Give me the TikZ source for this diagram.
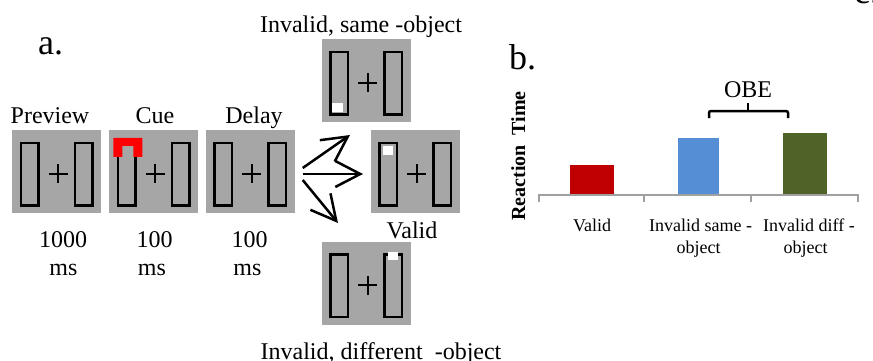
\documentclass[tikz,border=0pt]{standalone}
\usepackage{fontspec}
\setmainfont{Liberation Serif}
\usetikzlibrary{arrows.meta}

\definecolor{panelgray}{HTML}{A6A6A6}
\definecolor{axisgray}{HTML}{A0A0A0}
\definecolor{cuered}{HTML}{FF0000}
\definecolor{validred}{HTML}{C00000}
\definecolor{sameblue}{HTML}{558ED5}
\definecolor{diffgreen}{HTML}{4F6228}

% two placeholder bars and the fixation cross inside a display
\newcommand{\stimulus}[1]{%
	\draw[frame] ([shift={(9.3,13.3)}]#1.north west) rectangle ([shift={(26.7,75.7)}]#1.north west);
	\draw[frame] ([shift={(63.3,13.3)}]#1.north west) rectangle ([shift={(80.7,75.7)}]#1.north west);
	\draw[cross] ([shift={(37,44)}]#1.north west) -- ([shift={(56,44)}]#1.north west);
	\draw[cross] ([shift={(46.5,34.5)}]#1.north west) -- ([shift={(46.5,53.5)}]#1.north west);
}
% white target square
\newcommand{\probe}[3]{%
	\fill[white] ([shift={(#2)}]#1.north west) rectangle ([shift={(#3)}]#1.north west);
}

\begin{document}
\begin{tikzpicture}[x=1pt,y=-1pt]
	\tikzset{panel/.style={fill=panelgray, minimum width=89pt, minimum height=83pt, inner sep=0pt}}
	\tikzset{frame/.style={line width=2.7pt}}
	\tikzset{cross/.style={line width=2.2pt}}
	\tikzset{lbl/.style={font=\fontsize{24}{28}\selectfont, anchor=base, inner sep=0pt}}
	\tikzset{cat/.style={font=\fontsize{18}{21}\selectfont, anchor=base, inner sep=0pt}}
	\tikzset{letter/.style={font=\fontsize{36}{42}\selectfont, anchor=base west, inner sep=0pt}}
	\tikzset{bigarrow/.style={line width=2.5pt, -{Straight Barb[length=25pt, width=26pt]}}}
	\useasboundingbox (0,0) rectangle (873,361);

	% a. trial sequence
	\node[letter] (a) at (38,55) {a.};
	\node[panel] (preview) at (56.5,171.5) {};
	\node[panel] (cue) at (153.5,171.5) {};
	\node[panel] (delay) at (250,171.5) {};
	\stimulus{preview}
	\stimulus{cue}
	\stimulus{delay}
	\fill[cuered] ([shift={(4.5,27)}]cue.north west) -- ([shift={(4.5,8)}]cue.north west)
		-- ([shift={(33.5,8)}]cue.north west) -- ([shift={(33.5,27)}]cue.north west)
		-- ([shift={(24.5,27)}]cue.north west) -- ([shift={(24.5,16)}]cue.north west)
		-- ([shift={(13.5,16)}]cue.north west) -- ([shift={(13.5,27)}]cue.north west) -- cycle;
	\node[lbl] (previewname) at (50,123) {Preview};
	\node[lbl] (cuename) at (155,123) {Cue};
	\node[lbl] (delayname) at (254,123) {Delay};
	\node[lbl] (previewtime) at (63,247) {1000};
	\node[lbl] (previewms) at (63.5,275) {ms};
	\node[lbl] (cuetime) at (154.5,247) {100};
	\node[lbl] (cuems) at (152,275) {ms};
	\node[lbl] (delaytime) at (249.5,247) {100};
	\node[lbl] (delayms) at (247.5,275) {ms};

	% targets
	\node[panel] (same) at (366,80.5) {};
	\node[panel] (valid) at (415,171.5) {};
	\node[panel] (diff) at (366,283) {};
	\stimulus{same}
	\stimulus{valid}
	\stimulus{diff}
	\probe{same}{11,64}{22,73}
	\probe{valid}{13,16}{23,25}
	\probe{diff}{67,11}{77,19}
	\node[lbl] (samename) at (361,33) {Invalid, same -object};
	\node[lbl] (validname) at (412,238) {Valid};
	\node[lbl] (diffname) at (381,359) {Invalid, different\ \ -object};

	\coordinate (tosame) at (350,135);
	\coordinate (tovalid) at (363,174);
	\coordinate (todiff) at (338,223);
	\draw[bigarrow] ([shift={(8,-3.5)}]delay.east) -- (tosame);
	\draw[bigarrow] ([shift={(8,2.5)}]delay.east) -- (tovalid);
	\draw[bigarrow] ([shift={(8,8.5)}]delay.east) -- (todiff);

	% b. reaction times
	\node[letter] (b) at (509,70) {b.};
	\node[font=\fontsize{20}{24}\selectfont\bfseries, rotate=90, anchor=base, inner sep=0pt] (rt) at (525,156) {Reaction\ \ Time};
	\fill[validred] (570,165) rectangle (614,195);
	\fill[sameblue] (678,138) rectangle (719,195);
	\fill[diffgreen] (783,133) rectangle (827,195);
	\draw[axisgray, line width=2pt] (539,195) -- (858,195);
	\foreach \x in {539,644,751,858}
		\draw[axisgray, line width=2pt] (\x,194) -- (\x,202);
	\node[cat] (validcat) at (592,231) {Valid};
	\node[cat] (samecat) at (700.5,231) {Invalid same -};
	\node[cat] (samecat2) at (698.5,253) {object};
	\node[cat] (diffcat) at (809,231) {Invalid diff -};
	\node[cat] (diffcat2) at (805.5,253) {object};
	\draw[line width=2.5pt, rounded corners=2pt] (709,118) -- (709,111) -- (788,111) -- (788,118);
	\draw[line width=2.5pt] (748,111) -- (748,103);
	\node[lbl] (obe) at (748,97) {OBE};

	% c.
	\node[letter] (c) at (854,4) {c.};
\end{tikzpicture}
\end{document}
